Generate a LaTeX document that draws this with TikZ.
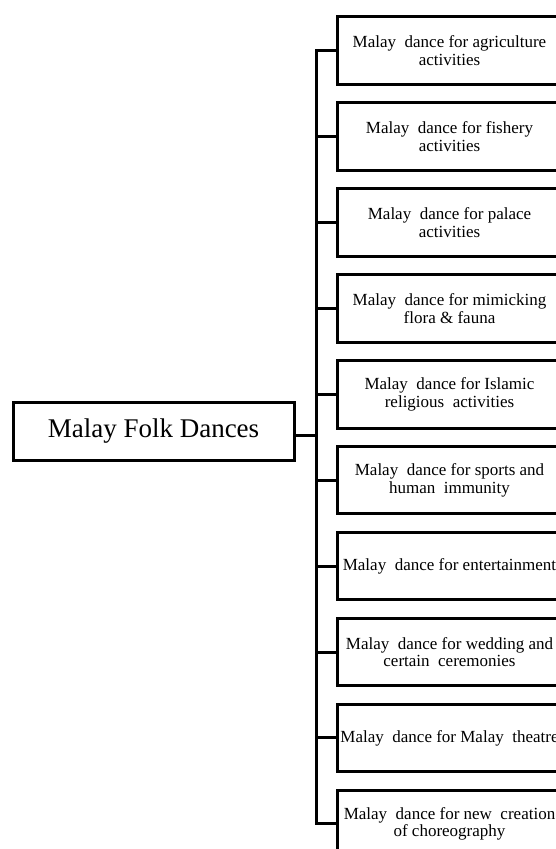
\documentclass[tikz,border=0pt]{standalone}
\usepackage{fontspec}
\setmainfont{Liberation Serif}
\begin{document}
\begin{tikzpicture}[x=1pt,y=-1pt,
  rootbox/.style={draw, line width=3pt, minimum width=281pt, minimum height=58pt,
    inner sep=0pt, font=\fontsize{27}{30}\selectfont},
  leafbox/.style={draw, line width=3pt, minimum width=224pt, minimum height=67.5pt,
    inner sep=0pt, align=center, font=\fontsize{17}{17.7}\selectfont},
  link/.style={line width=3pt, line cap=rect}]
\useasboundingbox (0,0) rectangle (556,849);

% root of the tree
\node[rootbox] (root) at (153.5,431) {Malay Folk Dances};

% the ten categories, stacked on a fixed pitch
\foreach \i/\txt in {
  1/{Malay\ \ dance for agriculture\\activities},
  2/{Malay\ \ dance for fishery\\activities},
  3/{Malay\ \ dance for palace\\activities},
  4/{Malay\ \ dance for mimicking\\flora \& fauna},
  5/{Malay\ \ dance for Islamic\\religious\ \ activities},
  6/{Malay\ \ dance for sports and\\human\ \ immunity},
  7/{Malay\ \ dance for entertainment},
  8/{Malay\ \ dance for wedding and\\certain\ \ ceremonies},
  9/{Malay\ \ dance for Malay\ \ theatre},
  10/{Malay\ \ dance for new\ \ creation\\of choreography}}
  \node[leafbox] (l\i) at (449.5,{50.7+85.9*(\i-1)}) {\txt};

% vertical spine and the branches
\coordinate (spine) at (316,0);
\coordinate (join) at (316,435);
\draw[link] (l1.west -| spine) -- (l10.west -| spine);
\foreach \i in {1,...,10}
  \draw[link] (l\i.west -| spine) -- (l\i.west);
\draw[link] (root.east |- join) -- (join);
\end{tikzpicture}
\end{document}
